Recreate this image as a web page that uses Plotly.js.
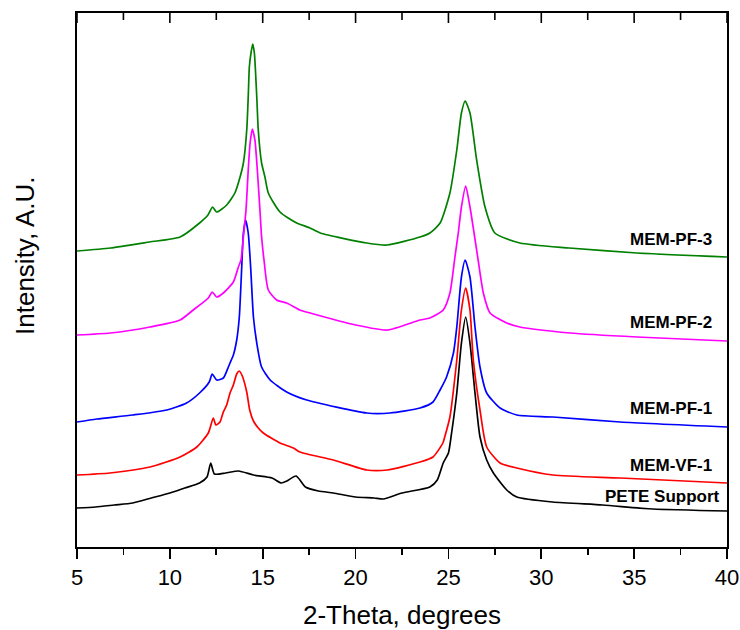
<!DOCTYPE html>
<html>
<head>
<meta charset="utf-8">
<script src="https://cdn.plot.ly/plotly-3.0.1.min.js"></script>
<style>html,body{margin:0;padding:0;background:#fff;}#chart{width:740px;height:630px;}</style>
</head>
<body>
<div id="chart"></div>
<script>
// 2-Theta (degrees) and intensity (A.U., stacked offsets as drawn)
const petX = [5, 6, 7, 8, 9, 10, 10.8, 11.6, 12.0, 12.2, 12.4, 13.0, 13.7, 14.5, 15.5, 16.0, 16.3, 16.8, 17.3, 18.0, 18.8, 20.0, 21.0, 21.5, 22.5, 24.0, 24.4, 24.72, 25.0, 25.17, 25.45, 25.7, 25.93, 26.16, 26.43, 26.7, 27.06, 27.42, 28.14, 28.68, 30.6, 33.3, 36, 40];
const petY = [39, 40, 42, 44, 49, 54, 59, 64, 70, 84, 73, 74, 76, 72, 69, 64, 66, 71, 60, 56, 54, 50, 49, 48, 54, 60, 67, 84, 94, 114, 154, 204, 230, 204, 154, 110, 87, 74, 57, 50, 45, 42, 38, 36];

const vf1X = [5, 6.78, 8.93, 10.55, 11.45, 12.07, 12.34, 12.48, 12.7, 12.88, 13.06, 13.24, 13.42, 13.6, 13.74, 13.9, 14.14, 14.3, 14.5, 14.76, 15.03, 15.93, 16.65, 17.0, 18.8, 20.6, 21.7, 23.47, 24.17, 24.7, 24.8, 25.08, 25.45, 25.7, 25.93, 26.16, 26.34, 26.7, 27.06, 27.78, 28.68, 30.63, 34.25, 40];
const vf1Y = [72, 74, 80, 90, 100, 114, 129, 122, 125, 135, 142, 154, 162, 173, 176, 171, 155, 137, 126, 119, 114, 104, 99, 95, 87, 77, 77, 85, 90, 104, 110, 130, 187, 237, 259, 237, 187, 137, 100, 84, 79, 72, 69, 64];

const pf1X = [5, 6.07, 8.0, 9.84, 10.9, 11.6, 12.12, 12.28, 12.52, 12.88, 13.15, 13.24, 13.42, 13.6, 13.74, 13.87, 13.96, 14.08, 14.22, 14.35, 14.5, 14.68, 14.94, 15.4, 16.29, 17.37, 20.6, 21.85, 23.47, 24.17, 24.55, 24.9, 25.27, 25.45, 25.7, 25.9, 26.16, 26.43, 26.7, 27.06, 27.78, 28.68, 30.63, 34.25, 40];
const pf1Y = [125, 128, 132, 137, 144, 154, 165, 173, 167, 169, 180, 184, 192, 207, 230, 280, 314, 327, 314, 280, 230, 204, 180, 167, 155, 147, 134, 134, 139, 145, 157, 170, 194, 220, 270, 287, 270, 220, 180, 154, 139, 132, 130, 125, 120];

const pf2X = [5, 6.8, 8.93, 10.55, 11.26, 12.07, 12.28, 12.52, 12.88, 13.42, 13.69, 13.83, 13.96, 14.1, 14.22, 14.32, 14.44, 14.58, 14.71, 14.85, 14.94, 15.07, 15.3, 15.75, 16.29, 17.0, 17.55, 20.0, 21.7, 23.47, 24.0, 24.72, 25.08, 25.35, 25.53, 25.7, 25.93, 26.16, 26.38, 26.6, 26.88, 27.24, 28.14, 28.85, 31.55, 35.15, 40];
const pf2Y = [212, 214, 220, 227, 237, 249, 255, 250, 254, 265, 280, 287, 310, 337, 377, 404, 418, 407, 377, 337, 310, 287, 257, 247, 244, 237, 234, 222, 217, 227, 229, 237, 254, 290, 314, 340, 361, 340, 314, 287, 254, 234, 224, 220, 214, 210, 206];

const pf3X = [5, 6.8, 8.9, 10.55, 11.6, 12.05, 12.3, 12.52, 13.06, 13.5, 13.78, 13.96, 14.14, 14.22, 14.28, 14.37, 14.46, 14.55, 14.68, 14.76, 14.94, 15.12, 15.3, 15.93, 16.83, 17.55, 18.1, 20.6, 21.7, 23.47, 24.0, 24.55, 25.08, 25.45, 25.7, 25.9, 26.16, 26.52, 26.97, 27.5, 28.85, 31.5, 35.15, 40];
const pf3Y = [296, 299, 305, 310, 324, 332, 340, 335, 342, 354, 370, 384, 417, 450, 480, 494, 503, 494, 450, 417, 384, 370, 354, 335, 324, 319, 314, 304, 302, 310, 314, 324, 354, 397, 434, 446, 434, 387, 340, 314, 304, 299, 294, 290];

const seriesNames = ["PETE Support", "MEM-VF-1", "MEM-PF-1", "MEM-PF-2", "MEM-PF-3"];
const seriesColors = ["#000000", "#ff0000", "#0000ff", "#ff00ff", "#008000"];
const xTickVals = [5, 10, 15, 20, 25, 30, 35, 40];
const xTitle = "2-Theta, degrees";
const yTitle = "Intensity, A.U.";

const xs = [petX, vf1X, pf1X, pf2X, pf3X];
const ys = [petY, vf1Y, pf1Y, pf2Y, pf3Y];
// label vertical positions (data units) next to each curve's right end
const labelY = [51, 82, 139, 225, 308];

const traces = xs.map((x, i) => ({
  x: x, y: ys[i], type: 'scatter', mode: 'lines', name: seriesNames[i],
  line: {color: seriesColors[i], width: 1.7, shape: 'spline', smoothing: 0.6},
  hoverinfo: 'skip'
}));

const font = "Arial, 'Liberation Sans', sans-serif";

const annotations = seriesNames.map((n, i) => ({
  text: '<b>' + n + '</b>', xref: 'paper', yref: 'y',
  x: (n === "PETE Support" ? 0.992 : 0.98), y: labelY[i], xanchor: 'right', yanchor: 'middle',
  showarrow: false, font: {family: font, size: 17, color: '#000'}
}));
annotations.push({
  text: yTitle, xref: 'paper', yref: 'paper', x: -0.08, y: 0.545,
  xanchor: 'center', yanchor: 'middle', textangle: -90, showarrow: false,
  font: {family: font, size: 26, color: '#000'}
});

// inward ticks along the top frame, at the same major values plus the halfway minor ticks
const plotH = 630 - 13 - 83;
const topTicks = [];
xTickVals.forEach((v, k) => {
  topTicks.push({type: 'line', xref: 'x', yref: 'paper', x0: v, x1: v, y0: 1, y1: 1 - 10 / plotH,
    line: {color: '#000', width: 1.6}});
  if (k < xTickVals.length - 1) {
    const m = (v + xTickVals[k + 1]) / 2;
    topTicks.push({type: 'line', xref: 'x', yref: 'paper', x0: m, x1: m, y0: 1, y1: 1 - 7 / plotH,
      line: {color: '#000', width: 1.6}});
  }
});

const layout = {
  width: 740, height: 630,
  margin: {l: 77, r: 13, t: 13, b: 83},
  paper_bgcolor: '#fff', plot_bgcolor: '#fff',
  showlegend: false,
  font: {family: font, color: '#000'},
  xaxis: {
    range: [5, 40], tickvals: xTickVals, ticks: 'outside', ticklen: 10, tickwidth: 1.6,
    tickcolor: '#000', showline: true, linecolor: '#000', linewidth: 1.8, mirror: true,
    showgrid: false, zeroline: false,
    tickfont: {family: font, size: 22, color: '#000'},
    minor: {dtick: 2.5, tick0: 5, ticks: 'outside', ticklen: 6, tickwidth: 1.6, tickcolor: '#000', showgrid: false},
    title: {text: xTitle, font: {family: font, size: 26, color: '#000'}, standoff: 16}
  },
  yaxis: {
    range: [0, 534], showticklabels: false, ticks: '', showgrid: false, zeroline: false,
    showline: true, linecolor: '#000', linewidth: 1.8, mirror: true
  },
  shapes: topTicks,
  annotations: annotations
};

Plotly.newPlot('chart', traces, layout, {displayModeBar: false, staticPlot: true});
</script>
</body>
</html>
